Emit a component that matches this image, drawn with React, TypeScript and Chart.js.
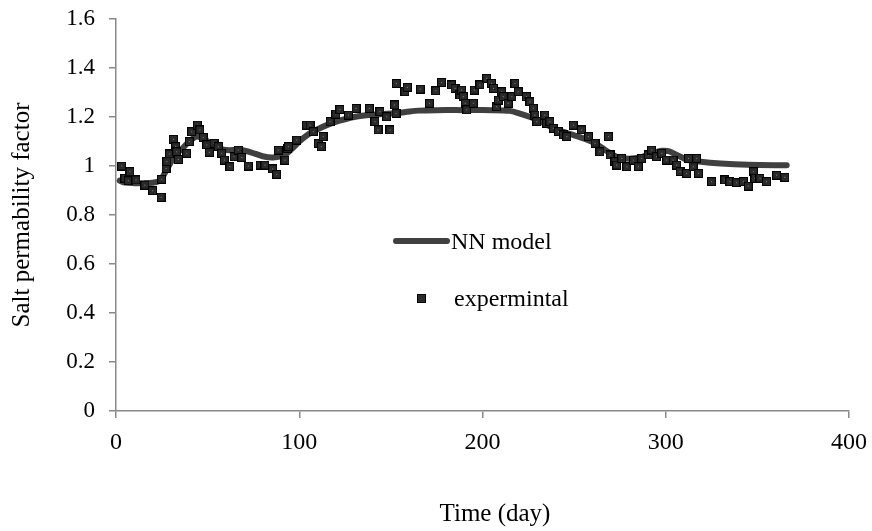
import React, { useEffect, useRef } from 'react';
import { Chart, registerables } from 'chart.js';

Chart.register(...registerables);

// Experimental data (day, salt permeability factor)
const expDays = [
  3.1, 4.9, 6.7, 7.6, 10.9, 15.8, 20, 24.6, 24.9, 27.3, 27.7, 29.1, 31.3, 32.6, 33.1, 34,
  38.6, 40, 41.3, 44.4, 45.8, 47.6, 49.5, 50.9, 53.5, 55.8, 57.7, 59.1, 62.2, 64.4, 66.7,
  68.6, 72.2, 78.6, 81.3, 85.5, 87.7, 88.6, 92.2, 93.5, 94, 98.6, 104, 105.9, 107.7, 110.4,
  112, 113, 116.8, 120, 122.2, 126.8, 131, 138.2, 141.3, 143, 144, 147.7, 149.5, 152, 152.8,
  153, 157.7, 159, 166, 171, 174.5, 177.7, 183, 185, 187.7, 188.6, 189.5, 190.6, 191.4, 195,
  195.5, 198.6, 202.3, 205, 206, 207.7, 208.6, 210.5, 211.3, 214, 216, 217.7, 219.5, 224,
  225.9, 227.7, 228.6, 229.6, 234, 235, 236.8, 238.6, 241.4, 244, 246, 249.5, 254, 257.8,
  261.4, 264, 268.7, 269.6, 272.3, 273.2, 276, 278.7, 282.3, 285, 286.9, 290.5, 292.3, 295,
  297.8, 300.5, 304, 306, 307.8, 311.4, 312.4, 315, 316.9, 317.8, 325, 332.3, 335, 338.7,
  342.3, 345, 347.8, 348.7, 351.4, 355, 360.5, 365,
];
const expValues = [
  1.0, 0.95, 0.94, 0.977, 0.943, 0.922, 0.899, 0.872, 0.946, 0.99, 1.018, 1.049, 1.109, 1.079, 1.058, 1.027,
  1.052, 1.099, 1.14, 1.167, 1.147, 1.117, 1.086, 1.056, 1.093, 1.079, 1.052, 1.024, 0.997, 1.038, 1.065,
  1.035, 1.0, 1.004, 1.004, 0.988, 0.966, 1.065, 1.024, 1.072, 1.079, 1.106, 1.167, 1.167, 1.14, 1.093,
  1.079, 1.12, 1.181, 1.212, 1.231, 1.208, 1.235, 1.235, 1.181, 1.147, 1.222, 1.201, 1.147, 1.249, 1.215,
  1.337, 1.303, 1.321, 1.314, 1.256, 1.307, 1.341, 1.331, 1.317, 1.29, 1.31, 1.283, 1.256, 1.229, 1.256,
  1.31, 1.331, 1.358, 1.337, 1.317, 1.242, 1.269, 1.303, 1.283, 1.256, 1.283, 1.337, 1.303, 1.283,
  1.262, 1.236, 1.208, 1.181, 1.208, 1.174, 1.181, 1.154, 1.14, 1.127, 1.12, 1.167, 1.147, 1.12,
  1.093, 1.058, 1.12, 1.045, 1.018, 1.004, 1.031, 0.997, 1.024, 0.997, 1.031, 1.045, 1.065, 1.038,
  1.052, 1.024, 1.024, 1.004, 0.977, 0.97, 1.031, 0.997, 1.031, 0.97, 0.936, 0.943, 0.936, 0.932,
  0.936, 0.918, 0.977, 0.95, 0.95, 0.936, 0.963, 0.954,
];

// NN model curve
const nnDays = [
  2, 5, 10, 15, 20, 24, 28, 32, 36, 40, 44, 48, 52, 56, 60, 68, 74, 80, 86, 92, 96, 100, 105,
  110, 116, 122, 130, 138, 145, 152, 158, 165, 175, 190, 205, 215, 220, 226, 232, 240, 248,
  256, 262, 268, 274, 280, 286, 292, 298, 302, 306, 312, 318, 330, 345, 366,
];
const nnValues = [
  0.94, 0.932, 0.93, 0.93, 0.932, 0.94, 0.99, 1.04, 1.07, 1.1, 1.12, 1.11, 1.09, 1.075, 1.065, 1.065, 1.055, 1.04, 1.035, 1.045, 1.07, 1.1, 1.13,
  1.15, 1.17, 1.185, 1.2, 1.208, 1.212, 1.215, 1.22, 1.226, 1.228, 1.228, 1.228, 1.225, 1.215, 1.2, 1.18, 1.15, 1.13,
  1.11, 1.09, 1.06, 1.035, 1.03, 1.035, 1.05, 1.062, 1.06, 1.045, 1.025, 1.018, 1.01, 1.005, 1.003,
];

const xTicks = [0, 100, 200, 300, 400];
const yTicks = [0, 0.2, 0.4, 0.6, 0.8, 1, 1.2, 1.4, 1.6];

const FONT = "'Liberation Serif', 'Times New Roman', serif";
const AXIS = '#898989';

function makeMarker(): HTMLCanvasElement {
  const c = document.createElement('canvas');
  c.width = 9;
  c.height = 9;
  const g = c.getContext('2d')!;
  g.fillStyle = '#000';
  g.fillRect(0, 0, 9, 9);
  g.fillStyle = '#2a2a2a';
  g.fillRect(1, 1, 7, 7);
  g.fillStyle = '#8a8a8a';
  g.fillRect(4, 4, 1, 1);
  return c;
}

export default function App() {
  const ref = useRef<HTMLCanvasElement | null>(null);

  useEffect(() => {
    if (!ref.current) return;
    const marker = makeMarker();
    const chart = new Chart(ref.current, {
      type: 'scatter',
      data: {
        datasets: [
          {
            label: 'expermintal',
            type: 'scatter',
            data: expDays.map((d, i) => ({ x: d, y: expValues[i] })),
            pointStyle: marker as any,
            pointRadius: 5,
            order: 1,
          },
          {
            label: 'NN model',
            type: 'line',
            data: nnDays.map((d, i) => ({ x: d, y: nnValues[i] })),
            borderColor: '#404040',
            borderWidth: 6,
            pointRadius: 0,
            borderCapStyle: 'round',
            borderJoinStyle: 'round',
            tension: 0.3,
            fill: false,
            showLine: true,
            order: 2,
          } as any,
        ],
      },
      options: {
        animation: false,
        responsive: false,
        devicePixelRatio: 1,
        layout: { padding: { top: 19, right: 23, left: 0, bottom: 0 } },
        plugins: { legend: { display: false }, tooltip: { enabled: false } },
        scales: {
          x: {
            type: 'linear',
            min: 0,
            max: 400,
            afterBuildTicks: (s: any) => {
              s.ticks = xTicks.map((v) => ({ value: v }));
            },
            afterFit: (s: any) => {
              s.height = 120;
              s.paddingLeft = 0;
              s.paddingRight = 0;
            },
            grid: { drawOnChartArea: false, drawTicks: true, tickLength: 7, color: AXIS, lineWidth: 1.5 },
            border: { display: true, color: AXIS, width: 1.5 },
            ticks: {
              font: { family: FONT, size: 24 },
              color: '#000',
              padding: 10,
              maxRotation: 0,
              callback: (v: any) => String(v),
            },
          },
          y: {
            type: 'linear',
            min: 0,
            max: 1.6,
            afterBuildTicks: (s: any) => {
              s.ticks = yTicks.map((v) => ({ value: v }));
            },
            afterFit: (s: any) => {
              s.width = 116;
              s.paddingTop = 0;
              s.paddingBottom = 0;
            },
            grid: { drawOnChartArea: false, drawTicks: true, tickLength: 7, color: AXIS, lineWidth: 1.5 },
            border: { display: true, color: AXIS, width: 1.5 },
            ticks: {
              font: { family: FONT, size: 23 },
              color: '#000',
              padding: 14,
              callback: (v: any) => String(Number(Number(v).toFixed(1))),
            },
            title: {
              display: true,
              text: 'Salt permability factor',
              font: { family: FONT, size: 25 },
              color: '#000',
              padding: { top: 7, bottom: 0 },
            },
          },
        },
      },
    });
    return () => chart.destroy();
  }, []);

  const textStyle: React.CSSProperties = {
    position: 'absolute',
    fontFamily: FONT,
    fontSize: 24,
    lineHeight: 1,
    color: '#000',
    whiteSpace: 'nowrap',
  };

  return (
    <div style={{ position: 'fixed', left: 0, top: 0, width: 872, height: 531, background: '#fff' }}>
      <canvas ref={ref} width={872} height={531} style={{ position: 'absolute', left: 0, top: 0 }} />
      <div
        style={{
          position: 'absolute',
          left: 393,
          top: 238,
          width: 57,
          height: 6,
          borderRadius: 3,
          background: '#404040',
        }}
      />
      <div style={{ ...textStyle, left: 451, top: 241, transform: 'translateY(-50%)' }}>NN model</div>
      <div
        style={{
          position: 'absolute',
          left: 417,
          top: 294,
          width: 7,
          height: 7,
          background: '#2a2a2a',
          border: '1px solid #000',
        }}
      />
      <div style={{ ...textStyle, left: 454, top: 298, transform: 'translateY(-50%)' }}>expermintal</div>
      <div style={{ ...textStyle, fontSize: 25, left: 495, top: 512, transform: 'translate(-50%, -50%)' }}>
        Time (day)
      </div>
    </div>
  );
}
